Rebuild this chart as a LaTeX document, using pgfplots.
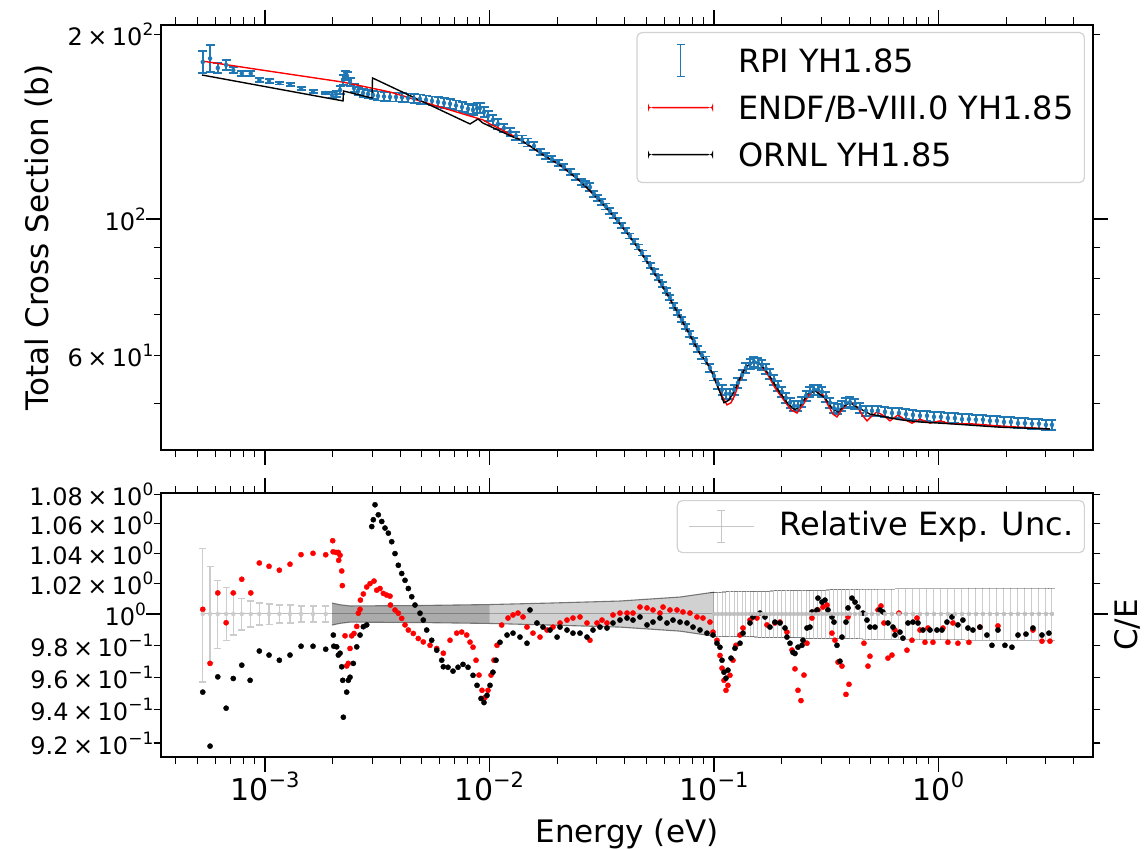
\documentclass[border=0pt]{standalone}
\usepackage{fontspec}
\setmainfont{DejaVu Sans}
\usepackage{pgfplots}
\usepackage{pgfplotstable}
\pgfplotsset{compat=1.18}
\definecolor{tabblue}{HTML}{1F77B4}
\newcommand{\xs}[1]{\raisebox{13pt}{\fontsize{21}{21}\selectfont #1}}
\newcommand{\ys}[1]{\raisebox{10pt}{\fontsize{17}{17}\selectfont #1}}
\newcommand{\tms}{\kern4.5pt×\kern4.5pt}

\pgfplotstableread{
E s err
5.28e-4 180.2 7.4
5.69e-4 182.6 9.2
6.16e-4 176.2 3.3
6.71e-4 178.2 3.3
7.22e-4 174.8 2.0
7.88e-4 172.6 1.6
8.64e-4 172.6 1.6
9.43e-4 168.4 1.3
1.042e-3 167.8 1.3
1.158e-3 166.5 0.9
1.292e-3 165.6 0.9
1.447e-3 163.1 0.9
1.636e-3 161.3 0.9
1.864e-3 160.4 0.6
1.988e-3 159.2 1.79
2.072e-3 159.8 1.80
2.159e-3 162.2 2.43
2.226e-3 168.4 3.16
2.272e-3 171.6 2.57
2.319e-3 171.0 2.56
2.391e-3 167.1 2.51
2.491e-3 163.4 2.45
2.596e-3 161.6 2.42
2.732e-3 160.4 2.41
2.876e-3 159.8 2.40
3.027e-3 159.2 2.39
3.186e-3 158.6 2.68
3.389e-3 158.3 2.67
3.604e-3 158.0 2.67
3.833e-3 158.0 2.67
4.076e-3 157.7 2.66
4.335e-3 157.4 2.66
4.610e-3 157.1 2.65
4.902e-3 156.8 2.65
5.214e-3 156.3 2.64
5.545e-3 155.7 2.63
5.897e-3 155.1 2.91
6.271e-3 154.5 2.90
6.670e-3 154.0 2.89
7.093e-3 153.1 2.87
7.543e-3 152.2 2.85
8.022e-3 151.1 2.83
8.445e-3 150.5 2.82
8.799e-3 151.6 2.84
9.073e-3 151.6 2.84
9.452e-3 149.4 2.80
9.847e-3 147.2 2.76
1.036e-2 145.0 2.72
1.091e-2 142.8 2.68
1.160e-2 140.7 2.11
1.234e-2 138.6 2.08
1.312e-2 136.5 2.05
1.396e-2 134.7 2.02
1.484e-2 133.2 2.00
1.578e-2 131.5 1.97
1.679e-2 128.6 1.45
1.785e-2 126.8 1.43
1.898e-2 125.2 1.41
2.019e-2 123.5 1.39
2.147e-2 121.5 1.37
2.284e-2 119.3 1.34
2.428e-2 117.2 1.32
2.582e-2 114.9 1.29
2.690e-2 114.0 1.28
2.803e-2 112.7 1.69
2.920e-2 109.8 1.24
3.042e-2 108.2 1.22
3.170e-2 106.5 1.20
3.303e-2 104.8 1.18
3.441e-2 103.0 1.16
3.586e-2 101.2 0.95
3.736e-2 99.4 0.93
3.892e-2 97.6 0.92
4.055e-2 95.7 0.90
4.225e-2 93.8 0.88
4.403e-2 91.9 0.86
4.587e-2 90.0 0.84
4.779e-2 88.0 0.83
4.979e-2 86.1 0.81
5.188e-2 84.1 0.79
5.405e-2 82.2 0.77
5.632e-2 80.2 0.75
5.868e-2 78.3 0.73
6.113e-2 76.4 0.72
6.368e-2 74.4 0.70
6.635e-2 72.4 0.68
6.913e-2 70.4 0.66
7.203e-2 68.6 0.64
7.504e-2 66.8 0.63
7.818e-2 65.0 0.73
8.146e-2 63.2 0.71
8.487e-2 61.4 0.69
8.842e-2 60.0 0.79
9.213e-2 58.95 0.77
9.598e-2 57.2 0.86
0.1000 55.5 0.94
0.1042 53.85 1.01
0.1086 52.7 0.99
0.1131 51.9 0.97
0.1178 51.9 0.97
0.1228 52.7 0.99
0.1279 54.1 1.01
0.1333 55.7 1.04
0.1388 57.2 1.07
0.1447 58.1 1.09
0.1507 58.5 1.10
0.1570 58.3 1.09
0.1636 57.85 1.08
0.1704 57.0 1.07
0.1776 55.9 1.05
0.1850 54.7 1.03
0.1928 53.45 1.00
0.2009 52.3 0.98
0.2093 51.1 0.96
0.2181 50.2 0.94
0.2272 49.6 0.93
0.2367 49.6 0.93
0.2466 50.3 0.94
0.2570 51.5 0.97
0.2677 52.3 0.98
0.2789 52.7 0.99
0.2906 52.7 0.99
0.3027 52.3 0.98
0.3154 51.3 0.96
0.3286 50.2 0.94
0.3424 49.2 0.92
0.3567 49.0 0.92
0.3717 49.6 0.93
0.3873 50.2 0.94
0.4035 50.3 0.94
0.4248 50.0 0.94
0.4471 49.2 0.92
0.4753 48.7 0.91
0.5056 48.7 0.91
0.5378 48.7 0.91
0.5776 48.5 0.91
0.6207 48.3 0.91
0.6668 48.3 0.91
0.7165 48.1 0.90
0.7698 47.95 0.90
0.8274 47.8 0.90
0.8889 47.8 0.90
0.9550 47.6 0.89
1.026 47.6 0.89
1.102 47.4 0.89
1.184 47.4 0.89
1.273 47.2 0.89
1.367 47.2 0.89
1.469 47.1 0.88
1.578 47.1 0.88
1.696 46.9 0.88
1.822 46.9 0.88
1.958 46.7 0.88
2.103 46.7 0.88
2.261 46.5 0.87
2.428 46.5 0.87
2.610 46.4 0.87
2.803 46.4 0.87
3.012 46.2 0.87
3.203 46.2 0.87
}\rpi

\pgfplotstableread{
E s
5.30e-4 180.7
1.0e-3 174.5
2.226e-3 167.1
3.604e-3 161.0
5.604e-3 153.4
7.39e-3 148.8
9.35e-3 145.0
1.005e-2 142.8
1.114e-2 140.2
1.234e-2 137.5
1.367e-2 134.7
1.515e-2 131.5
1.679e-2 128.1
1.860e-2 125.2
2.061e-2 122.4
2.284e-2 118.8
2.53e-2 115.3
2.803e-2 111.1
3.106e-2 107.0
3.441e-2 102.7
3.814e-2 98.1
4.225e-2 93.5
4.681e-2 88.7
5.188e-2 83.8
5.746e-2 78.9
6.368e-2 74.1
7.06e-2 69.2
7.818e-2 64.7
8.664e-2 60.3
9.213e-2 58.7
9.80e-2 56.2
0.1042 53.2
0.1086 51.5
0.1143 49.8
0.1191 50.2
0.1240 51.7
0.1306 54.7
0.1374 57.2
0.1492 58.5
0.1603 58.1
0.1740 55.7
0.1869 53.1
0.2072 50.4
0.2203 48.9
0.2343 48.3
0.2491 49.8
0.2650 51.7
0.2818 52.7
0.3027 52.1
0.3219 49.8
0.3388 48.1
0.3531 47.6
0.3717 48.9
0.3912 50.0
0.4119 50.2
0.4379 49.2
0.4610 47.8
0.4803 46.9
0.5056 47.8
0.5321 48.5
0.5717 47.8
0.6081 46.9
0.6602 47.96
0.7093 47.1
0.7621 46.5
0.8274 47.2
0.9168 46.5
1.016 46.9
1.125 46.4
1.381 46.4
1.879 46.0
2.557 45.7
3.138 45.5
}\endf

\pgfplotstableread{
E s
5.24e-4 171.6
2.226e-3 155.7
2.237e-3 161.6
2.996e-3 157.4
3.012e-3 169.7
8.19e-3 142.8
8.89e-3 145.5
9.35e-3 143.3
1.273e-2 136.0
1.367e-2 134.7
1.515e-2 131.5
1.679e-2 128.1
1.860e-2 125.2
2.061e-2 122.4
2.284e-2 118.8
2.53e-2 115.3
2.803e-2 111.1
3.106e-2 107.0
3.441e-2 102.7
3.814e-2 98.1
4.225e-2 93.5
4.681e-2 88.7
5.188e-2 83.8
5.746e-2 78.9
6.368e-2 74.1
7.06e-2 69.2
7.818e-2 64.7
8.664e-2 60.3
9.213e-2 58.7
9.80e-2 56.2
0.1042 53.2
0.1086 51.2
0.1108 50.2
0.1166 50.7
0.1240 52.7
0.1306 55.1
0.1388 57.4
0.1492 58.5
0.1603 58.1
0.1740 56.1
0.1928 52.7
0.2136 50.0
0.2295 48.9
0.2416 49.6
0.2623 51.9
0.2818 52.5
0.3122 51.1
0.3354 49.2
0.3567 48.5
0.3794 49.6
0.4035 50.2
0.4335 49.4
0.4954 48.1
0.5776 47.6
0.6738 47.1
0.8274 46.7
1.125 46.4
1.879 45.8
3.138 45.5
}\ornl

\pgfplotstableread{
E r
5.28e-4 1.003
5.69e-4 0.9686
6.16e-4 1.0137
6.71e-4 0.9944
7.22e-4 1.0137
7.88e-4 1.0227
8.64e-4 1.0137
9.43e-4 1.0335
1.042e-3 1.0313
1.158e-3 1.0287
1.292e-3 1.0327
1.447e-3 1.0391
1.636e-3 1.0400
1.864e-3 1.0390
2.002e-3 1.0485
2.010e-3 1.0410
2.072e-3 1.0406
2.121e-3 1.0406
2.159e-3 1.0387
2.130e-3 1.0353
2.196e-3 1.0282
2.210e-3 1.0185
2.272e-3 0.9860
2.311e-3 0.9670
2.350e-3 0.9686
2.391e-3 0.9780
2.433e-3 0.9860
2.491e-3 0.9875
2.562e-3 0.9920
2.604e-3 1.0005
2.650e-3 1.0030
2.660e-3 1.0090
2.741e-3 1.0130
2.838e-3 1.0176
2.936e-3 1.0198
3.059e-3 1.0215
3.145e-3 1.0155
3.253e-3 1.0166
3.365e-3 1.0134
3.484e-3 1.0123
3.604e-3 1.0116
3.620e-3 1.0058
3.794e-3 1.0026
3.925e-3 1.0005
4.063e-3 0.9972
4.204e-3 0.9930
4.349e-3 0.9897
4.577e-3 0.9875
4.817e-3 0.9843
5.071e-3 0.9821
5.433e-3 0.9800
5.820e-3 0.9780
6.228e-3 0.9750
6.670e-3 0.9832
7.144e-3 0.9877
7.520e-3 0.9884
7.915e-3 0.9865
8.190e-3 0.9820
8.445e-3 0.9788
8.710e-3 0.9706
8.980e-3 0.9613
9.260e-3 0.9519
9.550e-3 0.9475
9.847e-3 0.9519
1.016e-2 0.9613
1.047e-2 0.9706
1.080e-2 0.9800
1.133e-2 0.9929
1.209e-2 0.9974
1.273e-2 0.9994
1.340e-2 1.0006
1.410e-2 0.9981
1.469e-2 0.9916
1.562e-2 0.9877
1.679e-2 0.9852
1.804e-2 0.9897
1.918e-2 0.9916
2.061e-2 0.9942
2.214e-2 0.9961
2.354e-2 0.9974
2.530e-2 0.9981
2.718e-2 0.9942
2.803e-2 0.9832
3.012e-2 0.9942
3.170e-2 0.9961
3.337e-2 0.9942
3.549e-2 0.9994
3.814e-2 1.0006
4.099e-2 1.0006
4.357e-2 1.0006
4.681e-2 1.0045
5.030e-2 1.0039
5.350e-2 1.0026
5.746e-2 1.0006
5.930e-2 1.0045
6.368e-2 1.0026
6.843e-2 1.0026
7.276e-2 1.0013
7.818e-2 1.0006
8.400e-2 0.9981
8.930e-2 0.9974
9.598e-2 0.9948
9.900e-2 0.9884
0.1031 0.9832
0.1063 0.9736
0.1086 0.9656
0.1108 0.9581
0.1131 0.9519
0.1154 0.9550
0.1178 0.9612
0.1215 0.9706
0.1253 0.9800
0.1306 0.9865
0.1346 0.9910
0.1447 0.9961
0.1554 0.9974
0.1722 0.9930
0.1869 0.9942
0.1968 0.9948
0.2114 0.9884
0.2226 0.9770
0.2295 0.9652
0.2367 0.9519
0.2441 0.9456
0.2517 0.9613
0.2596 0.9813
0.2732 0.9974
0.2818 1.0013
0.2906 1.0026
0.3059 1.0045
0.3186 1.0058
0.3354 0.9877
0.3459 0.9832
0.3567 0.9694
0.3717 0.9669
0.3873 0.9494
0.3994 0.9556
0.3954 0.9981
0.4657 0.9813
0.4853 0.9669
0.4954 0.9731
0.5378 1.0026
0.5545 1.0052
0.5717 0.9942
0.5957 0.9719
0.6207 0.9738
0.6400 0.9897
0.6668 1.0006
0.7240 0.9769
0.7621 0.9832
0.8022 0.9974
0.8274 0.9897
0.8710 0.9819
0.8979 0.9910
0.9452 0.9819
1.047 0.9910
1.102 0.9819
1.160 0.9942
1.221 0.9813
1.367 0.9819
1.530 0.9916
1.841 0.9923
2.636 0.9897
2.891 0.9826
3.138 0.9826
}\cered

\pgfplotstableread{
E r
5.28e-4 0.9508
5.69e-4 0.9182
6.16e-4 0.9602
6.71e-4 0.9410
7.22e-4 0.9592
7.88e-4 0.9675
8.58e-4 0.9581
9.43e-4 0.9764
1.042e-3 0.9738
1.158e-3 0.9706
1.292e-3 0.9738
1.447e-3 0.9794
1.636e-3 0.9794
1.864e-3 0.9775
2.015e-3 0.9865
2.025e-3 0.9794
2.086e-3 0.9790
2.121e-3 0.9738
2.159e-3 0.9750
2.196e-3 0.9665
2.219e-3 0.9581
2.233e-3 0.9355
2.311e-3 0.9508
2.350e-3 0.9581
2.391e-3 0.9600
2.473e-3 0.9686
2.562e-3 0.9790
2.650e-3 0.9865
2.741e-3 0.9918
2.838e-3 0.9930
2.988e-3 1.0581
3.037e-3 1.0628
3.090e-3 1.0731
3.196e-3 1.0662
3.311e-3 1.0616
3.424e-3 1.0571
3.543e-3 1.0536
3.668e-3 1.0478
3.794e-3 1.0398
3.925e-3 1.0320
4.063e-3 1.0265
4.204e-3 1.0220
4.349e-3 1.0166
4.504e-3 1.0112
4.657e-3 1.0058
4.902e-3 1.0005
5.071e-3 0.9961
5.251e-3 0.9897
5.527e-3 0.9832
5.820e-3 0.9769
6.127e-3 0.9706
6.228e-3 0.9665
6.534e-3 0.9662
6.878e-3 0.9638
7.240e-3 0.9662
7.621e-3 0.9680
8.022e-3 0.9662
8.445e-3 0.9612
8.799e-3 0.9550
9.167e-3 0.9469
9.452e-3 0.9444
9.750e-3 0.9488
1.005e-2 0.9550
1.036e-2 0.9631
1.069e-2 0.9706
1.114e-2 0.9819
1.197e-2 0.9865
1.273e-2 0.9877
1.367e-2 0.9852
1.469e-2 0.9813
1.515e-2 1.0026
1.627e-2 0.9942
1.731e-2 0.9916
1.860e-2 0.9897
2.000e-2 0.9852
2.061e-2 0.9916
2.214e-2 0.9897
2.354e-2 0.9877
2.530e-2 0.9877
2.718e-2 0.9852
2.891e-2 0.9897
3.106e-2 0.9916
3.337e-2 0.9910
3.549e-2 0.9942
3.814e-2 0.9961
4.099e-2 0.9974
4.357e-2 0.9961
4.681e-2 0.9981
5.030e-2 0.9930
5.350e-2 0.9948
5.746e-2 0.9974
6.174e-2 0.9942
6.570e-2 0.9961
7.060e-2 0.9948
7.580e-2 0.9942
8.064e-2 0.9916
8.664e-2 0.9897
9.307e-2 0.9877
9.900e-2 0.9865
0.1031 0.9813
0.1063 0.9788
0.1086 0.9706
0.1108 0.9631
0.1131 0.9594
0.1154 0.9644
0.1191 0.9719
0.1240 0.9781
0.1306 0.9813
0.1346 0.9877
0.1447 0.9942
0.1492 0.9981
0.1603 1.0006
0.1687 0.9981
0.1776 0.9916
0.1869 0.9948
0.1968 0.9942
0.2072 0.9910
0.2114 0.9852
0.2181 0.9813
0.2249 0.9755
0.2295 0.9748
0.2367 0.9788
0.2466 0.9800
0.2491 0.9832
0.2596 0.9910
0.2677 0.9916
0.2732 1.0013
0.2876 1.0026
0.2906 1.0103
0.3027 1.0077
0.3122 1.0090
0.3219 1.0026
0.3354 0.9981
0.3424 0.9948
0.3531 0.9800
0.3641 0.9700
0.3717 0.9852
0.3873 0.9948
0.3954 1.0039
0.4119 1.0103
0.4248 1.0077
0.4379 1.0045
0.4610 1.0006
0.4803 0.9961
0.4954 0.9916
0.5214 0.9916
0.5488 1.0026
0.5657 1.0013
0.5957 0.9942
0.6271 0.9916
0.6400 0.9865
0.6738 0.9884
0.6948 0.9845
0.7315 0.9942
0.7698 0.9948
0.8104 0.9942
0.8531 0.9897
0.9168 0.9897
0.9847 0.9897
1.036 0.9897
1.091 0.9948
1.148 0.9981
1.221 0.9930
1.285 0.9961
1.353 0.9910
1.424 0.9897
1.530 0.9916
1.644 0.9865
1.731 0.9800
1.841 0.9897
1.978 0.9800
2.125 0.9788
2.261 0.9865
2.454 0.9871
2.636 0.9910
2.891 0.9865
3.106 0.9877
}\ceornl

\pgfplotstableread{
E y e
5.28e-4 1 0.043
5.69e-4 1 0.031
6.16e-4 1 0.022
6.71e-4 1 0.017
7.22e-4 1 0.0135
7.88e-4 1 0.0103
8.64e-4 1 0.0084
9.43e-4 1 0.0071
1.042e-3 1 0.0065
1.158e-3 1 0.0058
1.292e-3 1 0.0058
1.447e-3 1 0.0052
1.636e-3 1 0.0052
1.864e-3 1 0.0052
}\uncs

\pgfplotstableread{
E y e
0.1000 1 0.0142
0.1042 1 0.0143
0.1086 1 0.0143
0.1131 1 0.0144
0.1178 1 0.0144
0.1228 1 0.0145
0.1279 1 0.0145
0.1333 1 0.0146
0.1388 1 0.0146
0.1447 1 0.0147
0.1507 1 0.0147
0.1570 1 0.0148
0.1636 1 0.0148
0.1704 1 0.0149
0.1776 1 0.0149
0.1850 1 0.0150
0.1928 1 0.0150
0.2009 1 0.0151
0.2093 1 0.0151
0.2181 1 0.0152
0.2272 1 0.0152
0.2367 1 0.0153
0.2466 1 0.0153
0.2570 1 0.0154
0.2677 1 0.0154
0.2789 1 0.0155
0.2906 1 0.0155
0.3027 1 0.0156
0.3154 1 0.0156
0.3286 1 0.0157
0.3424 1 0.0157
0.3567 1 0.0158
0.3717 1 0.0158
0.3873 1 0.0159
0.4035 1 0.0159
0.4248 1 0.0160
0.4471 1 0.0160
0.4753 1 0.0161
0.5056 1 0.0161
0.5378 1 0.0162
0.5776 1 0.0162
0.6207 1 0.0162
0.6668 1 0.0163
0.7165 1 0.0163
0.7698 1 0.0164
0.8274 1 0.0164
0.8889 1 0.0165
0.9550 1 0.0165
1.026 1 0.0165
1.102 1 0.0166
1.184 1 0.0166
1.273 1 0.0166
1.367 1 0.0167
1.469 1 0.0167
1.578 1 0.0167
1.696 1 0.0167
1.822 1 0.0168
1.958 1 0.0168
2.103 1 0.0168
2.261 1 0.0168
2.428 1 0.0168
2.610 1 0.0168
2.803 1 0.0168
3.012 1 0.0168
3.203 1 0.0168
}\uncd

\begin{document}
\begin{tikzpicture}
\useasboundingbox (0pt,0pt) rectangle (1145pt,850pt);
% ---------------- top panel ----------------
\begin{axis}[at={(161pt,400pt)}, anchor=south west,
  scale only axis, width=932pt, height=425pt,
  xmode=log, ymode=log, xmin=3.44e-4, xmax=4.88, ymin=42.05, ymax=207,
  axis line style={line width=1.5pt, black},
  tick align=outside, major tick length=15pt, minor tick length=7.5pt,
  major tick style={line width=1.3pt, black},
  minor tick style={line width=1pt, black},
  xtick={1e-3,1e-2,1e-1,1}, xticklabels={},
  minor xtick={4e-4,5e-4,6e-4,7e-4,8e-4,9e-4,2e-3,3e-3,4e-3,5e-3,6e-3,7e-3,8e-3,9e-3,0.02,0.03,0.04,0.05,0.06,0.07,0.08,0.09,0.2,0.3,0.4,0.5,0.6,0.7,0.8,0.9,2,3,4},
  ytick={100}, yticklabels={10\ys{2}},
  extra y ticks={60,200}, extra y tick labels={6\tms10\ys{1},2\tms10\ys{2}},
  extra y tick style={major tick length=7.5pt},
  minor ytick={50,70,80,90},
  yticklabel style={font=\fontsize{24}{28}\selectfont, anchor=east, inner sep=0pt},
  ylabel={Total Cross Section (b)},
  ylabel style={font=\fontsize{31}{37}\selectfont, at={(axis description cs:-0.131,0.5)}, anchor=center},
  legend cell align=left,
  legend style={at={(rel axis cs:1,1)}, anchor=north east, xshift=-8pt, yshift=-7pt,
    font=\fontsize{32}{38}\selectfont, draw=gray!35, line width=1.2pt,
    rounded corners=5pt, fill=white, row sep=0pt, inner xsep=11pt, inner ysep=4.5pt,
    nodes={inner sep=0pt, text height=35pt, text depth=12pt},
    /tikz/every odd column/.append style={column sep=25pt}},
]
\addplot[tabblue, only marks, mark=none,
  legend image code/.code={\draw[draw=tabblue, line width=1.8pt] (32.5pt,-16pt)--(32.5pt,16pt) (28.5pt,-16pt)--(36.5pt,-16pt) (28.5pt,16pt)--(36.5pt,16pt);},
  error bars/y dir=both, error bars/y explicit,
  error bars/error bar style={tabblue, line width=1.8pt},
  error bars/error mark options={rotate=90, tabblue, mark size=4.5pt, line width=1.8pt}]
  table[x=E, y=s, y error=err] {\rpi};
\addlegendentry{RPI YH1.85}
\addplot[red, line width=1.4pt, error bars/y dir=none, error bars/x dir=none,
  legend image code/.code={\fill[fill=red, draw=none] (0pt,-0.75pt) rectangle (65pt,0.75pt);}]
  table[x=E, y=s] {\endf};
\addlegendentry{ENDF/B-VIII.0 YH1.85}
\addplot[black, line width=1.4pt, error bars/y dir=none, error bars/x dir=none,
  legend image code/.code={\fill[fill=black, draw=none] (0pt,-0.7pt) rectangle (65pt,0.7pt);}]
  table[x=E, y=s] {\ornl};
\addlegendentry{ORNL YH1.85}
\end{axis}
% ---------------- bottom panel ----------------
\begin{axis}[at={(161pt,93pt)}, anchor=south west,
  scale only axis, width=932pt, height=264pt,
  xmode=log, ymode=log, xmin=3.44e-4, xmax=4.88, ymin=0.9118, ymax=1.0813,
  axis line style={line width=1.5pt, black},
  tick align=outside, major tick length=15pt, minor tick length=7.5pt,
  major tick style={line width=1.3pt, black},
  minor tick style={line width=1pt, black},
  xtick={1e-3,1e-2,1e-1,1},
  xticklabels={10\xs{−3},10\xs{−2},10\xs{−1},10\xs{0}},
  minor xtick={4e-4,5e-4,6e-4,7e-4,8e-4,9e-4,2e-3,3e-3,4e-3,5e-3,6e-3,7e-3,8e-3,9e-3,0.02,0.03,0.04,0.05,0.06,0.07,0.08,0.09,0.2,0.3,0.4,0.5,0.6,0.7,0.8,0.9,2,3,4},
  xticklabel style={font=\fontsize{30}{36}\selectfont, anchor=north, inner sep=0pt},
  ytick={1}, yticklabels={10\ys{0}},
  minor ytick={0.92,0.94,0.96,0.98,1.02,1.04,1.06,1.08},
  extra y ticks={0.92,0.94,0.96,0.98,1.02,1.04,1.06,1.08},
  extra y tick labels={9.2\tms10\ys{−1},9.4\tms10\ys{−1},9.6\tms10\ys{−1},9.8\tms10\ys{−1},1.02\tms10\ys{0},1.04\tms10\ys{0},1.06\tms10\ys{0},1.08\tms10\ys{0}},
  extra y tick style={major tick length=7.5pt},
  yticklabel style={font=\fontsize{24}{28}\selectfont, anchor=east, inner sep=0pt},
  xlabel={Energy (eV)},
  xlabel style={font=\fontsize{31}{37}\selectfont, at={(axis description cs:0.5,-0.322)}, anchor=base},
  ylabel={C/E},
  ylabel style={font=\fontsize{31}{37}\selectfont, at={(axis description cs:1.0225,0.5)}, anchor=north, inner sep=0pt},
  legend cell align=left,
  legend style={at={(rel axis cs:1,1)}, anchor=north east, xshift=-8pt, yshift=-7pt,
    font=\fontsize{32}{38}\selectfont, draw=gray!35, line width=1.2pt,
    rounded corners=5pt, fill=white, inner xsep=11pt, inner ysep=5pt,
    nodes={inner sep=0pt, text height=30pt, text depth=12pt},
    /tikz/every odd column/.append style={column sep=25pt}},
]
\addplot[only marks, mark=*, mark size=2.6pt, red, mark options={draw=red, fill=red}, forget plot]
  table[x=E, y=r] {\cered};
\addplot[only marks, mark=*, mark size=2.6pt, black, mark options={draw=black, fill=black}, forget plot]
  table[x=E, y=r] {\ceornl};
\addplot[fill=black, fill opacity=0.33, draw=none, forget plot] coordinates {
 (1.988e-3,1.0071) (2.159e-3,1.006) (2.391e-3,1.0052) (4.9e-3,1.0055) (1.0e-2,1.0061)
 (1.0e-2,0.9939) (4.9e-3,0.9945) (2.391e-3,0.9948) (2.159e-3,0.994) (1.988e-3,0.9929) (1.988e-3,1.0071)};
\addplot[fill=black, fill opacity=0.18, draw=none, forget plot] coordinates {
 (1.0e-2,1.0061) (1.86e-2,1.0071) (3.81e-2,1.0084) (7.06e-2,1.011) (0.1,1.0142)
 (0.1,0.9858) (7.06e-2,0.989) (3.81e-2,0.9916) (1.86e-2,0.9929) (1.0e-2,0.9939) (1.0e-2,1.0061)};
\addplot[gray!70!black, draw opacity=0.8, line width=1.1pt, forget plot] coordinates {
 (1.988e-3,1.0071) (2.159e-3,1.006) (2.391e-3,1.0052) (4.9e-3,1.0055) (1.0e-2,1.0061) (1.86e-2,1.0071) (3.81e-2,1.0084) (7.06e-2,1.011) (0.1,1.0142)};
\addplot[gray!70!black, draw opacity=0.8, line width=1.1pt, forget plot] coordinates {
 (1.988e-3,0.9929) (2.159e-3,0.994) (2.391e-3,0.9948) (4.9e-3,0.9945) (1.0e-2,0.9939) (1.86e-2,0.9929) (3.81e-2,0.9916) (7.06e-2,0.989) (0.1,0.9858)};
\addplot[gray!50, only marks, mark=none, forget plot,
  error bars/y dir=both, error bars/y explicit,
  error bars/error bar style={black, opacity=0.2, line width=1pt},
  error bars/error mark options={rotate=90, black, opacity=0.3, mark size=3.5pt, line width=1pt}]
  table[x=E, y=y, y error=e] {\uncd};
\addplot[black, opacity=0.25, line width=1pt, forget plot] coordinates {(5.28e-4,1) (3.203,1)};
\addplot[gray!40, only marks, mark=none,
  legend image code/.code={\draw[draw=gray!45, line width=1.2pt] (0pt,0pt)--(65pt,0pt) (32.5pt,-16pt)--(32.5pt,16pt) (28.5pt,-16pt)--(36.5pt,-16pt) (28.5pt,16pt)--(36.5pt,16pt);},
  error bars/y dir=both, error bars/y explicit,
  error bars/error bar style={gray!40, line width=1.2pt},
  error bars/error mark options={rotate=90, gray!40, mark size=3.5pt, line width=1.2pt}]
  table[x=E, y=y, y error=e] {\uncs};
\addlegendentry{Relative Exp. Unc.}
\end{axis}
\end{tikzpicture}
\end{document}
